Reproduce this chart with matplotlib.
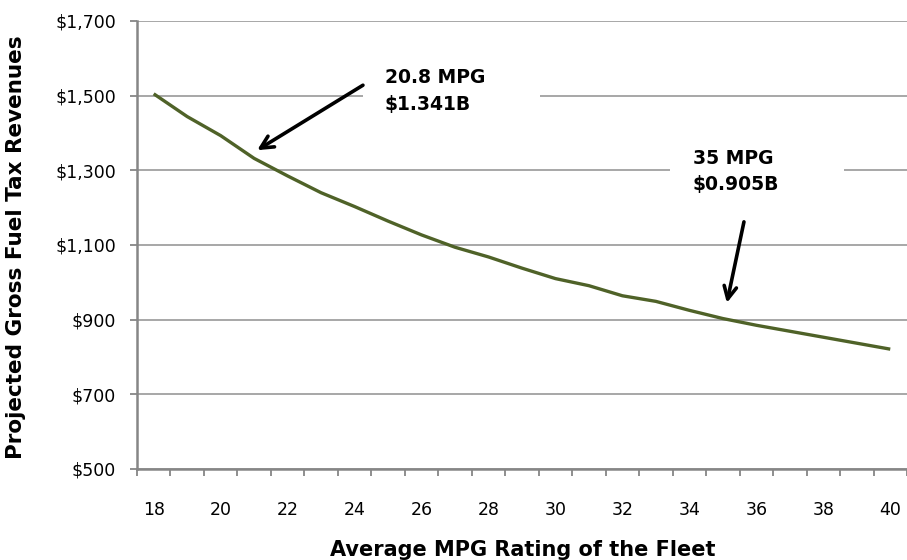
import matplotlib
matplotlib.use("Agg")
from matplotlib import pyplot as plt
from matplotlib.patches import Rectangle
from matplotlib.ticker import FuncFormatter

# data
mpg = [18, 19, 20, 21, 22, 23, 24, 25, 26, 27, 28, 29,
       30, 31, 32, 33, 34, 35, 36, 37, 38, 39, 40]
revenue = [1505, 1444, 1393, 1332, 1285, 1240, 1203, 1164, 1127, 1094, 1068, 1038,
           1010, 991, 964, 949, 925, 903, 885, 869, 853, 837, 821]

note1 = "20.8 MPG\n$1.341B"
note2 = "35 MPG\n$0.905B"

plt.rcParams['font.family'] = ['DejaVu Sans']

fig = plt.figure(figsize=(9.07, 5.6), dpi=100)
ax = fig.add_axes([0.151, 0.1625, 0.849, 0.8])

ax.plot(mpg, revenue, color="#4f6228", linewidth=2.4, zorder=4, solid_capstyle="butt")

ax.set_xlim(17.5, 40.5)
ax.set_ylim(500, 1700)

# y axis
ax.set_yticks(range(500, 1701, 200))
ax.yaxis.set_major_formatter(FuncFormatter(lambda v, p: "${:,.0f}".format(v)))
ax.tick_params(axis="y", direction="out", length=5, width=1.3, color="#868686",
               labelsize=12.5, pad=10)

# x axis: labels every 2, ticks on category boundaries
ax.set_xticks(range(18, 41, 2))
ax.set_xticks([m - 0.5 for m in mpg] + [40.5], minor=True)
ax.tick_params(axis="x", which="major", length=0, labelsize=12.5, pad=23)
ax.tick_params(axis="x", which="minor", direction="out", length=5, width=1.3,
               color="#868686")

ax.grid(axis="y", color="#a0a0a0", linewidth=1.3, zorder=1)
ax.set_axisbelow(True)

for s in ["top", "right"]:
    ax.spines[s].set_visible(False)
for s in ["left", "bottom"]:
    ax.spines[s].set_color("#868686")
    ax.spines[s].set_linewidth(1.8)

ax.set_xlabel("Average MPG Rating of the Fleet", fontsize=15, fontweight="bold")
ax.set_ylabel("Projected Gross Fuel Tax Revenues", fontsize=15.5, fontweight="bold")
ax.xaxis.set_label_coords(0.501, -0.158)
ax.yaxis.set_label_coords(-0.144, 0.495)

# annotation boxes (white, cover gridlines)
ax.add_patch(Rectangle((24.25, 1430), 5.3, 165, facecolor="white", edgecolor="none", zorder=2))
ax.add_patch(Rectangle((33.42, 1220), 5.2, 161, facecolor="white", edgecolor="none", zorder=2))

ax.text(24.9, 1512, note1, fontsize=13.5, fontweight="bold", ha="left", va="center",
        linespacing=1.5, zorder=5)
ax.text(34.1, 1297, note2, fontsize=13.5, fontweight="bold", ha="left", va="center",
        linespacing=1.5, zorder=5)

arrow = dict(arrowstyle="->,head_length=0.9,head_width=0.45", color="black", lw=2.6,
             shrinkA=0, shrinkB=0)
ax.annotate("", xy=(21.09, 1354), xytext=(24.25, 1528), arrowprops=arrow, zorder=6)
ax.annotate("", xy=(35.12, 945), xytext=(35.63, 1162), arrowprops=arrow, zorder=6)

fig.savefig("out.png", dpi=100)
